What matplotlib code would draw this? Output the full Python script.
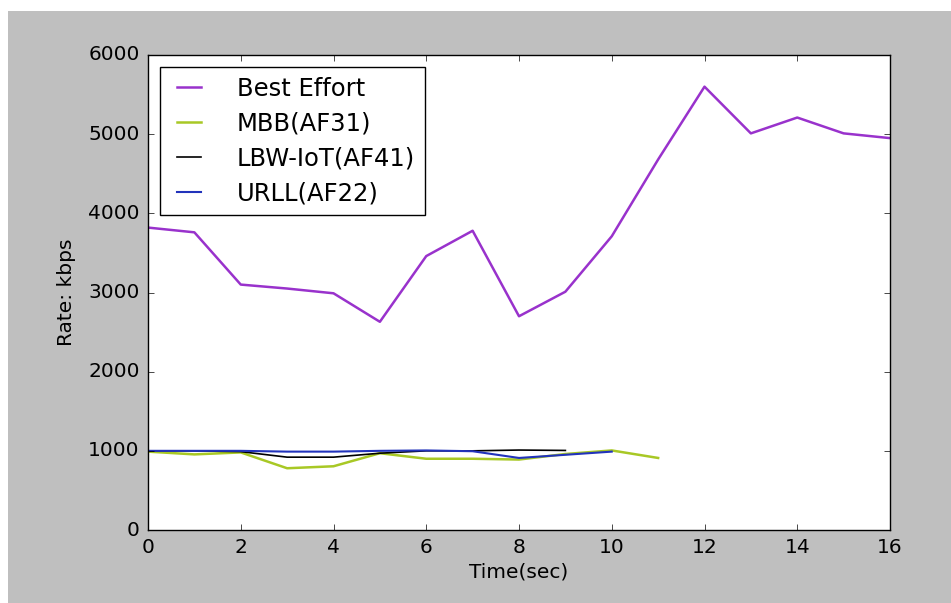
import matplotlib
matplotlib.use("Agg")
import matplotlib.pyplot as plt
from matplotlib.patches import Rectangle

time_be = list(range(0, 17))
best_effort = [3820, 3760, 3100, 3050, 2990, 2630, 3460, 3780, 2700, 3010, 3710, 4680, 5600, 5010, 5210, 5010, 4950]

time_mbb = list(range(0, 12))
mbb = [990, 955, 980, 780, 805, 970, 900, 900, 890, 960, 1005, 910]

time_lbw = list(range(0, 10))
lbw = [1000, 1000, 990, 920, 920, 970, 1000, 1000, 1010, 1005]

time_urll = list(range(0, 11))
urll = [1000, 1000, 1000, 990, 990, 1000, 1005, 995, 910, 950, 990]

plt.style.use('classic')
fig = plt.figure(figsize=(9.51, 6.03), dpi=100)
fig.patch.set_facecolor('white')
fig.patches.append(Rectangle((8/951, 0), 1, (603-11)/603, transform=fig.transFigure,
                             facecolor='#bfbfbf', edgecolor='none', zorder=-10))

ax = fig.add_axes([148/951, 73/603, 742/951, 475/603])
ax.set_facecolor('white')

ax.plot(time_be, best_effort, color='#9932CC', lw=1.8, label='Best Effort')
ax.plot(time_mbb, mbb, color='#A8C825', lw=1.8, label='MBB(AF31)')
ax.plot(time_lbw, lbw, color='black', lw=1.2, label='LBW-IoT(AF41)')
ax.plot(time_urll, urll, color='#2233BB', lw=1.5, label='URLL(AF22)')

ax.set_xlim(0, 16)
ax.set_ylim(0, 6000)
ax.set_xticks(range(0, 17, 2))
ax.set_yticks(range(0, 6001, 1000))
ax.tick_params(direction='in', labelsize=14.5, length=4, top=True, right=True, pad=6)
ax.set_xlabel('Time(sec)', fontsize=14.5, labelpad=4)
ax.set_ylabel('Rate: kbps', fontsize=14.5, labelpad=9)

leg = ax.legend(loc='upper left', fontsize=17.5, frameon=True, fancybox=False,
                handlelength=1.6, handletextpad=1.15, borderaxespad=0.5,
                labelspacing=0.45, numpoints=2)
leg.get_frame().set_edgecolor('black')
leg.get_frame().set_linewidth(1.0)

fig.savefig('out.png', dpi=100, facecolor=fig.get_facecolor())
